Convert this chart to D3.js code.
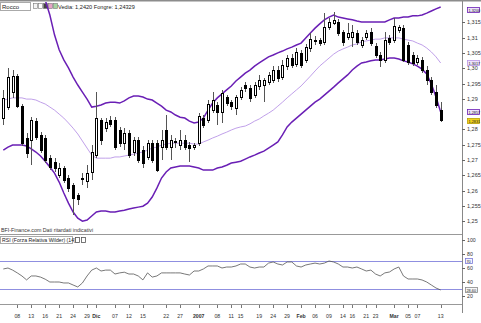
<!DOCTYPE html>
<html><head><meta charset="utf-8">
<script src="https://cdn.jsdelivr.net/npm/d3@7"></script>
<style>
html,body{margin:0;padding:0;background:#fff;}
svg{display:block;font-family:"Liberation Sans",Arial,sans-serif;}
</style></head><body>
<svg id="c" width="481" height="323"></svg>
<script>
const dates = [
"2006-11-03","2006-11-06","2006-11-07","2006-11-08","2006-11-09","2006-11-10","2006-11-13","2006-11-14","2006-11-15","2006-11-16",
"2006-11-17","2006-11-20","2006-11-21","2006-11-22","2006-11-23","2006-11-24","2006-11-27","2006-11-28","2006-11-29","2006-11-30",
"2006-12-01","2006-12-04","2006-12-05","2006-12-06","2006-12-07","2006-12-08","2006-12-11","2006-12-12","2006-12-13","2006-12-14",
"2006-12-15","2006-12-18","2006-12-19","2006-12-20","2006-12-21","2006-12-22","2006-12-25","2006-12-26","2006-12-27","2006-12-28",
"2006-12-29","2007-01-01","2007-01-02","2007-01-03","2007-01-04","2007-01-05","2007-01-08","2007-01-09","2007-01-10","2007-01-11",
"2007-01-12","2007-01-15","2007-01-16","2007-01-17","2007-01-18","2007-01-19","2007-01-22","2007-01-23","2007-01-24","2007-01-25",
"2007-01-26","2007-01-29","2007-01-30","2007-01-31","2007-02-01","2007-02-02","2007-02-05","2007-02-06","2007-02-07","2007-02-08",
"2007-02-09","2007-02-12","2007-02-13","2007-02-14","2007-02-15","2007-02-16","2007-02-19","2007-02-20","2007-02-21","2007-02-22",
"2007-02-23","2007-02-26","2007-02-27","2007-02-28","2007-03-01","2007-03-02","2007-03-04","2007-03-05","2007-03-06","2007-03-07",
"2007-03-08","2007-03-09","2007-03-11","2007-03-12","2007-03-13"];

const open = [1.2837,1.2873,1.2922,1.2974,1.2876,1.2772,1.2765,1.2827,1.2782,1.2772,
1.2706,1.2693,1.2651,1.2674,1.2641,1.2618,1.2585,1.2641,1.2631,1.2661,
1.2716,1.2831,1.2804,1.2831,1.2831,1.2798,1.2755,1.2788,1.2726,1.2765,
1.2732,1.2710,1.2755,1.2755,1.2742,1.2798,1.2742,1.2759,1.2749,1.2765,
1.2749,1.2742,1.2755,1.2837,1.2831,1.2863,1.2880,1.2857,1.2906,1.2889,
1.2870,1.2906,1.2945,1.2935,1.2912,1.2942,1.2945,1.2955,1.2961,1.2994,
1.2971,1.3007,1.3033,1.3014,1.3050,1.3027,1.3066,1.3092,1.3092,1.3086,
1.3135,1.3148,1.3151,1.3118,1.3102,1.3102,1.3115,1.3076,1.3102,1.3118,
1.3073,1.3043,1.3027,1.3099,1.3092,1.3125,1.3131,1.3076,1.3043,1.3020,
1.3027,1.2994,1.2961,1.2922,1.2863];
const high = [1.2929,1.3001,1.2994,1.2981,1.2883,1.2788,1.2840,1.2837,1.2791,1.2782,
1.2716,1.2706,1.2690,1.2680,1.2651,1.2625,1.2592,1.2657,1.2683,1.2749,
1.2922,1.2837,1.2837,1.2844,1.2840,1.2808,1.2804,1.2798,1.2775,1.2775,
1.2746,1.2765,1.2765,1.2765,1.2798,1.2847,1.2782,1.2772,1.2798,1.2782,
1.2759,1.2755,1.2853,1.2847,1.2896,1.2922,1.2889,1.2929,1.2912,1.2896,
1.2912,1.2938,1.2955,1.2945,1.2955,1.2978,1.2968,1.2988,1.3007,1.3007,
1.3027,1.3043,1.3046,1.3066,1.3060,1.3079,1.3115,1.3105,1.3099,1.3180,
1.3164,1.3184,1.3161,1.3125,1.3148,1.3141,1.3125,1.3102,1.3125,1.3131,
1.3082,1.3053,1.3118,1.3109,1.3164,1.3141,1.3141,1.3086,1.3053,1.3043,
1.3037,1.3007,1.2971,1.2945,1.2889];
const low = [1.2814,1.2863,1.2903,1.2870,1.2746,1.2706,1.2683,1.2765,1.2723,1.2690,
1.2667,1.2661,1.2641,1.2625,1.2595,1.2520,1.2553,1.2618,1.2608,1.2634,
1.2706,1.2749,1.2791,1.2808,1.2732,1.2742,1.2732,1.2706,1.2713,1.2690,
1.2674,1.2700,1.2690,1.2661,1.2700,1.2732,1.2700,1.2739,1.2732,1.2732,
1.2693,1.2732,1.2746,1.2804,1.2821,1.2853,1.2814,1.2821,1.2876,1.2863,
1.2847,1.2896,1.2922,1.2889,1.2903,1.2929,1.2889,1.2945,1.2952,1.2955,
1.2961,1.2994,1.3001,1.3004,1.3001,1.3017,1.3053,1.3076,1.3073,1.3076,
1.3125,1.3141,1.3105,1.3073,1.3092,1.3069,1.3076,1.3066,1.3092,1.3073,
1.3033,1.3004,1.3017,1.3076,1.3082,1.3115,1.3020,1.3010,1.3007,1.3010,
1.2984,1.2945,1.2912,1.2870,1.2824];
const close = [1.2903,1.2971,1.2974,1.2876,1.2755,1.2723,1.2831,1.2775,1.2732,1.2700,
1.2677,1.2674,1.2674,1.2634,1.2608,1.2576,1.2572,1.2638,1.2657,1.2726,
1.2837,1.2765,1.2824,1.2818,1.2742,1.2755,1.2788,1.2716,1.2765,1.2700,
1.2690,1.2755,1.2700,1.2667,1.2765,1.2742,1.2765,1.2762,1.2765,1.2742,
1.2739,1.2749,1.2844,1.2814,1.2883,1.2896,1.2857,1.2919,1.2886,1.2876,
1.2906,1.2929,1.2935,1.2903,1.2945,1.2961,1.2961,1.2978,1.2994,1.2968,
1.3010,1.3033,1.3010,1.3053,1.3010,1.3069,1.3095,1.3089,1.3082,1.3135,
1.3151,1.3158,1.3115,1.3086,1.3115,1.3118,1.3086,1.3092,1.3115,1.3082,
1.3043,1.3027,1.3092,1.3086,1.3138,1.3135,1.3027,1.3020,1.3017,1.3033,
1.2994,1.2961,1.2922,1.2880,1.2831];

const bbUpper = [1.3419,1.3406,1.3393,1.3380,1.3367,1.3354,1.3328,1.3301,1.3272,1.3223,
1.3174,1.3109,1.3060,1.3027,1.3001,1.2971,1.2945,1.2922,1.2899,1.2873,
1.2876,1.2880,1.2886,1.2889,1.2889,1.2886,1.2893,1.2903,1.2909,1.2909,
1.2906,1.2899,1.2896,1.2886,1.2876,1.2863,1.2857,1.2847,1.2840,1.2837,
1.2827,1.2821,1.2824,1.2837,1.2863,1.2886,1.2903,1.2916,1.2929,1.2942,
1.2958,1.2971,1.2984,1.2994,1.3007,1.3017,1.3027,1.3037,1.3043,1.3050,
1.3056,1.3063,1.3069,1.3076,1.3082,1.3099,1.3115,1.3131,1.3145,1.3158,
1.3167,1.3174,1.3167,1.3164,1.3161,1.3158,1.3154,1.3151,1.3151,1.3151,
1.3151,1.3151,1.3151,1.3158,1.3164,1.3164,1.3167,1.3167,1.3171,1.3171,
1.3174,1.3180,1.3187,1.3194,1.3200];
const bbMiddle = [1.2896,1.2899,1.2903,1.2903,1.2903,1.2899,1.2899,1.2896,1.2889,1.2883,
1.2873,1.2863,1.2850,1.2837,1.2821,1.2804,1.2785,1.2762,1.2739,1.2716,
1.2706,1.2706,1.2706,1.2706,1.2710,1.2710,1.2713,1.2716,1.2719,1.2723,
1.2726,1.2732,1.2739,1.2742,1.2749,1.2752,1.2755,1.2755,1.2755,1.2755,
1.2755,1.2752,1.2752,1.2759,1.2765,1.2772,1.2778,1.2785,1.2791,1.2798,
1.2804,1.2808,1.2811,1.2818,1.2827,1.2834,1.2844,1.2853,1.2863,1.2876,
1.2889,1.2903,1.2916,1.2929,1.2942,1.2958,1.2974,1.2991,1.3007,1.3020,
1.3033,1.3046,1.3056,1.3063,1.3069,1.3076,1.3079,1.3086,1.3089,1.3092,
1.3095,1.3095,1.3099,1.3099,1.3099,1.3099,1.3095,1.3092,1.3089,1.3082,
1.3076,1.3066,1.3053,1.3037,1.3017];
const bbLower = [1.2732,1.2742,1.2749,1.2749,1.2749,1.2746,1.2736,1.2726,1.2713,1.2696,
1.2677,1.2657,1.2628,1.2592,1.2559,1.2530,1.2510,1.2500,1.2504,1.2517,
1.2530,1.2533,1.2533,1.2530,1.2530,1.2533,1.2536,1.2540,1.2543,1.2546,
1.2549,1.2559,1.2579,1.2608,1.2641,1.2661,1.2674,1.2677,1.2680,1.2680,
1.2680,1.2677,1.2674,1.2667,1.2667,1.2667,1.2674,1.2677,1.2683,1.2690,
1.2693,1.2696,1.2703,1.2710,1.2716,1.2723,1.2729,1.2739,1.2749,1.2759,
1.2782,1.2808,1.2824,1.2837,1.2850,1.2863,1.2876,1.2889,1.2899,1.2912,
1.2925,1.2938,1.2952,1.2965,1.2978,1.2994,1.3007,1.3017,1.3020,1.3024,
1.3027,1.3027,1.3030,1.3033,1.3033,1.3030,1.3024,1.3020,1.3014,1.3007,
1.2997,1.2981,1.2948,1.2906,1.2857];

const rsi = [58.6,60,57,53,48.6,43,48.6,48.6,47,44,
40,40,40,38.6,38.6,35.7,32.9,38.6,48.6,57,
60,55.7,57,57,51.4,53,54,51.4,51.4,48.6,
43,53,47,48.6,53,53,53,53,53,51.4,
50,55.7,55.7,58.6,62.9,62.9,62.9,60,61.4,61.4,
62.9,65.7,65.7,61.4,60,61.4,61.4,67,68.6,65.7,
64.3,68.6,68.6,62.9,61.4,64.3,65.7,67,65.7,67,
70,68.6,65.7,61.4,61.4,60,61.4,58.6,55.7,57,
51.4,48.6,53,54.3,58.6,61.4,48.6,44.3,44.3,44.3,
42.9,40,35.7,31.4,28.6];

const priceTicks = [1.25,1.255,1.26,1.265,1.27,1.275,1.28,1.29,1.295,1.30,1.305,1.31,1.315];
const rsiTicks = [100,80,60,40,20];
const rsiLevels = [70,30];
const tickDates = ["2006-11-08","2006-11-13","2006-11-16","2006-11-21","2006-11-24","2006-11-29","2006-12-01","2006-12-07","2006-12-12","2006-12-15","2006-12-22","2006-12-27","2007-01-02","2007-01-08","2007-01-11","2007-01-15","2007-01-19","2007-01-24","2007-01-29","2007-02-01","2007-02-06","2007-02-09","2007-02-14","2007-02-16","2007-02-21","2007-02-23","2007-03-01","2007-03-05","2007-03-07","2007-03-13"];
const tickLabels = ["08","13","16","21","24","29","Dic","07","12","15","22","27","2007","08","11","15","19","24","29","Feb","06","09","14","16","21","23","Mar","05","07","13"];

const titleText = "Rocco";
const headerText = "Vedia: 1,2420  Fongre: 1,24329";
const sourceText = "BFI-Finance.com  Dati ritardati indicativi";
const rsiTitle = "RSI (Forza Relativa Wilder) (14)";

const svg = d3.select("#c");
const AX = 462;
const BAND = "#6a1fb5", MID = "#b995e6";

const x = d3.scaleBand().domain(dates).range([1, 443]);
const cx = d => x(d) + x.bandwidth() / 2;
const y = d3.scaleLinear().domain([1.25, 1.32]).range([221.2, 7]);
const yR = d3.scaleLinear().domain([0, 100]).range([310, 240]);
const fmt = v => { const s = (Math.round(v * 1000) % 10 === 0) ? v.toFixed(2) : v.toFixed(3); return s.replace(".", ","); };
const fmt4 = v => v.toFixed(4).replace(".", ",");

const defs = svg.append("defs");
defs.append("clipPath").attr("id", "cm").append("rect").attr("x", 0).attr("y", 2).attr("width", AX).attr("height", 226);
defs.append("clipPath").attr("id", "cr").append("rect").attr("x", 0).attr("y", 236).attr("width", AX).attr("height", 68);

// frame
svg.append("rect").attr("x", 0).attr("y", 0).attr("width", 481).attr("height", 1.5).attr("fill", "#8c8c8c");
svg.append("line").attr("x1", AX + 0.5).attr("x2", AX + 0.5).attr("y1", 1).attr("y2", 313).attr("stroke", "#888");
svg.append("line").attr("x1", 0).attr("x2", AX).attr("y1", 234.5).attr("y2", 234.5).attr("stroke", "#999");
svg.append("line").attr("x1", 0).attr("x2", AX).attr("y1", 304.5).attr("y2", 304.5).attr("stroke", "#999");

// header
svg.append("rect").attr("x", 0.5).attr("y", 2.5).attr("width", 30).attr("height", 8).attr("fill", "#fff").attr("stroke", "#aaa");
svg.append("text").attr("x", 2).attr("y", 9).attr("font-size", 6).attr("fill", "#222").text(titleText);
const iconCols = ["#f4f4f4", "#ffffff", "#444", "#e7a3c6", "#a6d6a0"];
svg.selectAll("rect.ic").data(iconCols).join("rect").attr("class", "ic")
  .attr("x", (d, i) => 33.5 + i * 5).attr("y", 3.5).attr("width", 4).attr("height", 5)
  .attr("fill", d => d).attr("stroke", "#777").attr("stroke-width", 0.6);
svg.append("text").attr("x", 58).attr("y", 9).attr("font-size", 5.6).attr("fill", "#222").text(headerText);

// main panel
const gm = svg.append("g").attr("clip-path", "url(#cm)");
const line = arr => d3.line().x((d, i) => cx(dates[i])).y(d => y(d))(arr);
gm.append("path").attr("d", line(bbMiddle)).attr("fill", "none").attr("stroke", MID).attr("stroke-width", 0.9);
gm.append("path").attr("d", line(bbUpper)).attr("fill", "none").attr("stroke", BAND).attr("stroke-width", 1.5);
gm.append("path").attr("d", line(bbLower)).attr("fill", "none").attr("stroke", BAND).attr("stroke-width", 1.5);

const cg = gm.append("g").attr("shape-rendering", "crispEdges");
const idx = d3.range(dates.length);
cg.selectAll("line.w").data(idx).join("line").attr("class", "w")
  .attr("x1", i => Math.round(cx(dates[i])) + 0.5).attr("x2", i => Math.round(cx(dates[i])) + 0.5)
  .attr("y1", i => y(high[i])).attr("y2", i => y(low[i])).attr("stroke", "#555");
cg.selectAll("rect.b").data(idx).join("rect").attr("class", "b")
  .attr("x", i => Math.round(cx(dates[i])) - 0.5)
  .attr("y", i => Math.round(y(Math.max(open[i], close[i]))) + 0.5)
  .attr("width", 2)
  .attr("height", i => Math.max(0.01, Math.round(Math.abs(y(open[i]) - y(close[i])))))
  .attr("fill", i => close[i] >= open[i] ? "#fff" : "#000")
  .attr("stroke", "#000");

// price axis
svg.selectAll("line.pt").data(priceTicks).join("line").attr("class", "pt")
  .attr("x1", AX).attr("x2", AX + 3).attr("y1", d => Math.round(y(d)) + 0.5).attr("y2", d => Math.round(y(d)) + 0.5).attr("stroke", "#666");
svg.selectAll("text.pt").data(priceTicks).join("text").attr("class", "pt")
  .attr("x", 467).attr("y", d => y(d) + 2).attr("font-size", 5.5).attr("fill", "#333").text(fmt);

// value boxes
const last = dates.length - 1;
function vbox(val, yy, fill, stroke, w) {
  svg.append("rect").attr("x", 467.5).attr("y", Math.round(yy) - 2.5).attr("width", w || 12).attr("height", 5)
    .attr("fill", fill).attr("stroke", stroke).attr("stroke-width", 0.8);
  svg.append("text").attr("x", 468.5).attr("y", Math.round(yy) + 1.6).attr("font-size", 3.8).attr("fill", "#222").text(val);
}
vbox(fmt4(bbUpper[last]), y(bbUpper[last]) + 3, "#eee3fb", BAND);
vbox(fmt4(bbMiddle[last]), y(bbMiddle[last]), "#eee3fb", MID);
vbox(fmt4(bbLower[last]), y(bbLower[last]), "#eee3fb", BAND);
vbox(fmt4(close[last]), y(close[last]) + 1, "#f3d21a", "#b8a000");

// source text
svg.append("text").attr("x", 1).attr("y", 232).attr("font-size", 5.3).attr("fill", "#333").text(sourceText);

// RSI panel
svg.append("rect").attr("x", 0.5).attr("y", 236.5).attr("width", 72).attr("height", 7).attr("fill", "#fff").attr("stroke", "#aaa");
svg.append("text").attr("x", 2).attr("y", 242).attr("font-size", 5.2).attr("fill", "#222").text(rsiTitle);
svg.selectAll("rect.ic2").data(["#fff", "#fff"]).join("rect").attr("class", "ic2")
  .attr("x", (d, i) => 75.5 + i * 6).attr("y", 237.5).attr("width", 4).attr("height", 5)
  .attr("fill", d => d).attr("stroke", "#555").attr("stroke-width", 0.8);

const gr = svg.append("g").attr("clip-path", "url(#cr)");
gr.selectAll("line.lv").data(rsiLevels).join("line").attr("class", "lv")
  .attr("x1", 0).attr("x2", AX).attr("y1", d => Math.round(yR(d)) + 0.5).attr("y2", d => Math.round(yR(d)) + 0.5)
  .attr("stroke", "#8f8fe0").attr("stroke-width", 1);
gr.append("path").attr("d", d3.line().x((d, i) => cx(dates[i])).y(d => yR(d))(rsi))
  .attr("fill", "none").attr("stroke", "#555").attr("stroke-width", 0.8);

svg.selectAll("text.rt").data(rsiTicks).join("text").attr("class", "rt")
  .attr("x", 467).attr("y", d => yR(d) + 2).attr("font-size", 5.2).attr("fill", "#333").text(d => d);
svg.selectAll("line.rt").data(rsiTicks).join("line").attr("class", "rt")
  .attr("x1", AX).attr("x2", AX + 3).attr("y1", d => Math.round(yR(d)) + 0.5).attr("y2", d => Math.round(yR(d)) + 0.5).attr("stroke", "#666");
function rbox(val, yy, fill, stroke, w) {
  svg.append("rect").attr("x", 465.5).attr("y", Math.round(yy) - 2.5).attr("width", w).attr("height", 5)
    .attr("fill", fill).attr("stroke", stroke).attr("stroke-width", 0.8);
  svg.append("text").attr("x", 466.5).attr("y", Math.round(yy) + 1.6).attr("font-size", 3.8).attr("fill", "#222").text(val);
}
rbox(String(rsiLevels[0]), yR(rsiLevels[0]), "#f4f4ff", "#7a7ad8", 7);
rbox(rsi[last].toFixed(2).replace(".", ","), yR(rsi[last]), "#f7f7f7", "#888", 12);

// x axis
const tg = svg.append("g");
tg.selectAll("line").data(tickDates).join("line")
  .attr("x1", d => Math.round(cx(d)) + 0.5).attr("x2", d => Math.round(cx(d)) + 0.5)
  .attr("y1", 305).attr("y2", 308).attr("stroke", "#777");
tg.selectAll("text").data(tickDates).join("text")
  .attr("x", d => cx(d)).attr("y", 318).attr("text-anchor", "middle")
  .attr("font-size", 5.2).attr("fill", "#333")
  .attr("font-weight", (d, i) => tickLabels[i].length === 2 ? "normal" : "bold")
  .text((d, i) => tickLabels[i]);
</script>
</body></html>
